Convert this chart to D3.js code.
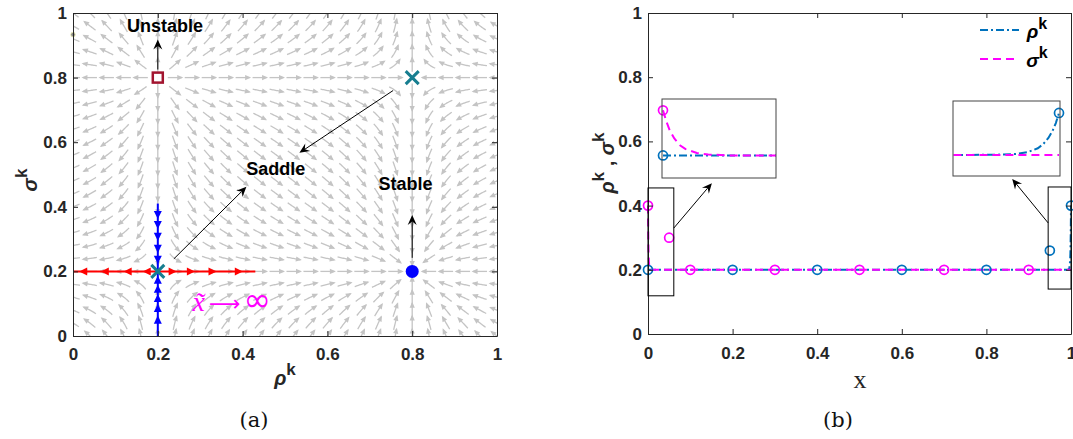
<!DOCTYPE html>
<html>
<head>
<meta charset="utf-8">
<script src="https://cdn.jsdelivr.net/npm/d3@7"></script>
<style>
body { margin: 0; background: #fff; }
svg { display: block; }
</style>
</head>
<body>
<svg id="fig" width="1073" height="439"></svg>
<script>
// ---------- data ----------
const tickValues = [0, 0.2, 0.4, 0.6, 0.8, 1];
const tickLabels = ["0", "0.2", "0.4", "0.6", "0.8", "1"];

// (a) fixed points of the map (rho roots and sigma roots)
const rhoRoots = [0.2, 0.8];
const sigmaRoots = [0.2, 0.8];
const fixedPoints = [
  { rho: 0.2, sigma: 0.8, kind: "unstable" },
  { rho: 0.8, sigma: 0.8, kind: "saddle" },
  { rho: 0.2, sigma: 0.2, kind: "saddle" },
  { rho: 0.8, sigma: 0.2, kind: "stable" }
];
// iterates along the unstable (red) and stable (blue) manifolds
const redLeft = [0.024, 0.075, 0.129, 0.174];
const redRight = [0.235, 0.278, 0.329, 0.391];
const redEnd = 0.43;
const blueDown = [0.375, 0.344, 0.307, 0.270, 0.236];
const blueUp = [0.05, 0.087, 0.118, 0.146, 0.174];
const blueEnd = 0.41;
const strayPoint = { rho: 0, sigma: 0.933 };

// (b) profiles
const rhoX = [0, 0.99, 0.994, 0.996, 0.997, 0.998, 0.9985, 0.999, 0.9994, 0.9997, 1];
const rhoY = [0.2, 0.2, 0.201, 0.205, 0.213, 0.232, 0.251, 0.281, 0.316, 0.352, 0.4];
const sigmaX = [0, 0.0003, 0.0006, 0.001, 0.0015, 0.002, 0.003, 0.004, 0.006, 0.01, 1];
const sigmaY = [0.4, 0.35, 0.31, 0.275, 0.245, 0.228, 0.211, 0.204, 0.2, 0.2, 0.2];
const rhoMarkX = [0, 0.2, 0.4, 0.6, 0.8, 0.95, 1];
const rhoMarkY = [0.2, 0.2, 0.2, 0.2, 0.2, 0.26, 0.4];
const sigmaMarkX = [0, 0.05, 0.1, 0.3, 0.5, 0.7, 0.9];
const sigmaMarkY = [0.4, 0.3, 0.2, 0.2, 0.2, 0.2, 0.2];

const BLUE = "#0072bd", MAG = "#ff00ff", TEAL = "#177e90", AXC = "#262626";
const SANS = "'Liberation Sans', Arial, sans-serif";
const svg = d3.select("#fig");

// ---------- helpers ----------
function box(g, x, y, padX, padY) {
  const fmt = (d, i) => tickLabels[i];
  const styleAx = a => {
    a.select(".domain").attr("stroke", AXC);
    a.selectAll(".tick line").attr("stroke", AXC);
    a.selectAll("text").attr("fill", AXC)
      .style("font-family", SANS).style("font-size", "17px").style("font-weight", "bold");
  };
  g.append("g").attr("transform", `translate(0,${y.range()[0]})`)
    .call(d3.axisBottom(x).tickValues(tickValues).tickFormat(fmt).tickSizeInner(-5).tickSizeOuter(0).tickPadding(padX))
    .call(styleAx);
  g.append("g").attr("transform", `translate(${x.range()[0]},0)`)
    .call(d3.axisLeft(y).tickValues(tickValues).tickFormat(fmt).tickSizeInner(-5).tickSizeOuter(0).tickPadding(padY))
    .call(styleAx);
  g.append("g").attr("transform", `translate(0,${y.range()[1]})`)
    .call(d3.axisTop(x).tickValues(tickValues).tickFormat("").tickSizeInner(-5).tickSizeOuter(0))
    .call(styleAx);
  g.append("g").attr("transform", `translate(${x.range()[1]},0)`)
    .call(d3.axisRight(y).tickValues(tickValues).tickFormat("").tickSizeInner(-5).tickSizeOuter(0))
    .call(styleAx);
}

function arrow(g, x1, y1, x2, y2, len = 10, wid = 4.5) {
  const a = Math.atan2(y2 - y1, x2 - x1);
  const ux = Math.cos(a), uy = Math.sin(a);
  const bx = x2 - ux * len, by = y2 - uy * len;
  const nx = x2 - ux * len * 0.65, ny = y2 - uy * len * 0.65;
  g.append("line").attr("x1", x1).attr("y1", y1).attr("x2", nx).attr("y2", ny)
    .attr("stroke", "#000").attr("stroke-width", 1);
  const p = [[x2, y2], [bx - uy * wid, by + ux * wid], [nx, ny], [bx + uy * wid, by - ux * wid]];
  g.append("path").attr("d", "M" + p.join("L") + "Z").attr("fill", "#000");
}

function supLabel(g, parts, size, supSize) {
  // parts: [[text, isSup, italic]]
  const t = g.append("text").attr("font-family", SANS)
    .attr("font-weight", "bold").attr("fill", AXC).attr("text-anchor", "middle");
  let up = false;
  parts.forEach(([s, sup, it]) => {
    const ts = t.append("tspan").text(s).attr("font-size", sup ? supSize : size);
    if (it) ts.attr("font-style", "italic");
    if (sup && !up) { ts.attr("dy", -size * 0.5); up = true; }
    else if (!sup && up) { ts.attr("dy", size * 0.5); up = false; }
  });
  return t;
}

// ---------- panel (a) ----------
const xA = d3.scaleLinear().domain([0, 1]).range([73, 497]);
const yA = d3.scaleLinear().domain([0, 1]).range([336, 13]);
const gA = svg.append("g");

svg.append("clipPath").attr("id", "clipA").append("rect")
  .attr("x", xA(0)).attr("y", yA(1)).attr("width", xA(1) - xA(0)).attr("height", yA(0) - yA(1));

const fRho = r => (r - rhoRoots[0]) * (rhoRoots[1] - r);
const fSig = s => -(s - sigmaRoots[0]) * (sigmaRoots[1] - s);
function dir(px, py) {
  const r = xA.invert(px), s = yA.invert(py);
  const vx = fRho(r) * (xA(1) - xA(0)), vy = -fSig(s) * (yA(0) - yA(1));
  const n = Math.hypot(vx, vy);
  return n < 1e-9 ? null : [vx / n, vy / n];
}

const field = gA.append("g").attr("clip-path", "url(#clipA)");
const grid = d3.range(0, 26).map(i => i * 0.04);
const FG = "#c4c4c4";
grid.forEach(r => grid.forEach(s => {
  const px = xA(r), py = yA(s);
  if (!dir(px, py)) return;
  const back = [], fwd = [];
  let p = [px, py];
  for (let k = 0; k < 7; k++) { const d = dir(p[0], p[1]); if (!d) break; p = [p[0] - d[0], p[1] - d[1]]; back.unshift(p); }
  p = [px, py];
  let last = dir(px, py);
  for (let k = 0; k < 7; k++) { const d = dir(p[0], p[1]); if (!d) break; last = d; p = [p[0] + d[0], p[1] + d[1]]; fwd.push(p); }
  const pts = back.concat([[px, py]], fwd);
  field.append("path").attr("d", d3.line()(pts)).attr("fill", "none")
    .attr("stroke", FG).attr("stroke-width", 1.3);
  const [ex, ey] = pts[pts.length - 1], [ux, uy] = last;
  const hl = 4.5, hw = 2.6;
  const bx = ex - ux * hl, by = ey - uy * hl;
  field.append("path")
    .attr("d", `M${ex + ux * 1.5},${ey + uy * 1.5}L${bx - uy * hw},${by + ux * hw}L${bx + uy * hw},${by - ux * hw}Z`)
    .attr("fill", FG);
}));

// red manifold (horizontal) and blue manifold (vertical)
const sad = fixedPoints[2];
gA.append("line").attr("x1", xA(0)).attr("x2", xA(redEnd)).attr("y1", yA(sad.sigma)).attr("y2", yA(sad.sigma))
  .attr("stroke", "#ff0000").attr("stroke-width", 2);
const tri = (cx, cy, ang, col) => {
  const L = 8, W = 4;
  const ux = Math.cos(ang), uy = Math.sin(ang);
  const tx = cx + ux * L / 2, ty = cy + uy * L / 2, bx = cx - ux * L / 2, by = cy - uy * L / 2;
  gA.append("path").attr("d", `M${tx},${ty}L${bx - uy * W},${by + ux * W}L${bx + uy * W},${by - ux * W}Z`).attr("fill", col);
};
redLeft.forEach(r => tri(xA(r), yA(sad.sigma), Math.PI, "#ff0000"));
redRight.forEach(r => tri(xA(r), yA(sad.sigma), 0, "#ff0000"));
gA.append("line").attr("x1", xA(sad.rho)).attr("x2", xA(sad.rho)).attr("y1", yA(0)).attr("y2", yA(blueEnd))
  .attr("stroke", "#0000ff").attr("stroke-width", 2);
blueDown.forEach(s => tri(xA(sad.rho), yA(s), Math.PI / 2, "#0000ff"));
blueUp.forEach(s => tri(xA(sad.rho), yA(s), -Math.PI / 2, "#0000ff"));

// fixed point markers
fixedPoints.forEach(p => {
  const cx = xA(p.rho), cy = yA(p.sigma);
  if (p.kind === "saddle") {
    const h = 6.5;
    gA.append("path").attr("d", `M${cx - h},${cy - h}L${cx + h},${cy + h}M${cx - h},${cy + h}L${cx + h},${cy - h}`)
      .attr("stroke", TEAL).attr("stroke-width", 3);
  } else if (p.kind === "unstable") {
    gA.append("rect").attr("x", cx - 5).attr("y", cy - 5).attr("width", 10).attr("height", 10)
      .attr("fill", "none").attr("stroke", "#a2142f").attr("stroke-width", 2.5);
  } else {
    gA.append("circle").attr("cx", cx).attr("cy", cy).attr("r", 6.5).attr("fill", "#0000ff");
  }
});
gA.append("circle").attr("cx", xA(strayPoint.rho)).attr("cy", yA(strayPoint.sigma)).attr("r", 2.3)
  .attr("fill", "#8c8c8c").attr("stroke", "#f0f0b0").attr("stroke-width", 0.8);

box(gA, xA, yA, 12, 6);

// annotations
const bold18 = t => t.attr("font-family", SANS).attr("font-weight", "bold")
  .attr("font-size", 18).attr("fill", "#000").attr("text-anchor", "middle");
gA.append("text").attr("x", xA(0.217)).attr("y", yA(0.94)).text("Unstable").call(bold18);
gA.append("text").attr("x", xA(0.478)).attr("y", yA(0.5)).text("Saddle").call(bold18);
gA.append("text").attr("x", xA(0.784)).attr("y", yA(0.453)).text("Stable").call(bold18);
arrow(gA, xA(0.2), yA(0.825), xA(0.2), yA(0.918));
arrow(gA, xA(0.755), yA(0.76), xA(0.534), yA(0.567));
arrow(gA, xA(0.238), yA(0.239), xA(0.409), yA(0.462));
arrow(gA, xA(0.8), yA(0.242), xA(0.8), yA(0.375));

const inf = gA.append("text").attr("x", xA(0.282)).attr("y", yA(0.078)).attr("fill", MAG)
  .attr("font-family", "'Liberation Serif', 'Times New Roman', serif").attr("font-size", 28);
inf.append("tspan").attr("font-style", "italic").text("x\u0303");
inf.append("tspan").attr("dx", 4).attr("font-family", "'DejaVu Sans', sans-serif").attr("font-size", 22).text("\u27f6");
inf.append("tspan").attr("dx", 3).attr("font-family", "'DejaVu Sans', sans-serif").attr("font-size", 33).text("\u221e");

supLabel(gA, [["\u03c1", false, true], ["k", true]], 20, 17).attr("x", 285).attr("y", 385);
supLabel(gA, [["\u03c3", false, true], ["k", true]], 20, 17).attr("transform", "translate(37,180) rotate(-90)");

// ---------- panel (b) ----------
const xB = d3.scaleLinear().domain([0, 1]).range([648, 1071]);
const yB = d3.scaleLinear().domain([0, 1]).range([334, 13]);
const gB = svg.append("g");
const rhoPts = rhoX.map((v, i) => [v, rhoY[i]]);
const sigPts = sigmaX.map((v, i) => [v, sigmaY[i]]);
const rhoMarks = rhoMarkX.map((v, i) => [v, rhoMarkY[i]]);
const sigMarks = sigmaMarkX.map((v, i) => [v, sigmaMarkY[i]]);

function profiles(g, x, y, clipId) {
  const ln = d3.line().x(d => x(d[0])).y(d => y(d[1]));
  const lg = g.append("g").attr("clip-path", clipId ? `url(#${clipId})` : null);
  lg.append("path").attr("d", ln(rhoPts)).attr("fill", "none").attr("stroke", BLUE)
    .attr("stroke-width", 2).attr("stroke-dasharray", "8,3,2,3");
  lg.append("path").attr("d", ln(sigPts)).attr("fill", "none").attr("stroke", MAG)
    .attr("stroke-width", 2).attr("stroke-dasharray", "8,5");
  const [d0, d1] = x.domain();
  const [e0, e1] = y.domain();
  const inside = d => d[0] >= d0 && d[0] <= d1 && d[1] >= e0 && d[1] <= e1;
  g.selectAll(null).data(rhoMarks.filter(inside)).join("circle")
    .attr("cx", d => x(d[0])).attr("cy", d => y(d[1])).attr("r", 4.5)
    .attr("fill", "none").attr("stroke", BLUE).attr("stroke-width", 1.7);
  g.selectAll(null).data(sigMarks.filter(inside)).join("circle")
    .attr("cx", d => x(d[0])).attr("cy", d => y(d[1])).attr("r", 4.5)
    .attr("fill", "none").attr("stroke", MAG).attr("stroke-width", 1.7);
}

profiles(gB, xB, yB, null);
box(gB, xB, yB, 13, 6);

// zoom rectangles on main axes
const zoomRects = [
  { x0: 0, x1: 0.061, y0: 0.119, y1: 0.455 },
  { x0: 0.946, x1: 1.0, y0: 0.14, y1: 0.458 }
];
zoomRects.forEach(r => gB.append("rect").attr("x", xB(r.x0)).attr("y", yB(r.y1))
  .attr("width", xB(r.x1) - xB(r.x0)).attr("height", yB(r.y0) - yB(r.y1))
  .attr("fill", "none").attr("stroke", "#000").attr("stroke-width", 1));

// insets
const insets = [
  { id: "inL", box: [662, 99, 114, 79], xd: [0, 0.01], xr: [663, 776], yd: [0.1, 0.45] },
  { id: "inR", box: [953, 101, 107, 75], xd: [0.99, 1], xr: [953, 1059], yd: [0.1, 0.457] }
];
insets.forEach(s => {
  const [bx, by, bw, bh] = s.box;
  const g = gB.append("g");
  g.append("rect").attr("x", bx).attr("y", by).attr("width", bw).attr("height", bh).attr("fill", "#fff");
  svg.append("clipPath").attr("id", s.id).append("rect").attr("x", bx).attr("y", by).attr("width", bw).attr("height", bh);
  const x = d3.scaleLinear().domain(s.xd).range(s.xr);
  const y = d3.scaleLinear().domain(s.yd).range([by + bh, by]);
  profiles(g, x, y, s.id);
  g.append("rect").attr("x", bx).attr("y", by).attr("width", bw).attr("height", bh)
    .attr("fill", "none").attr("stroke", "#444").attr("stroke-width", 1);
});

arrow(gB, xB(0.061), yB(0.33), xB(0.151), yB(0.47));
arrow(gB, xB(0.946), yB(0.346), xB(0.861), yB(0.483));

// legend
const legend = [
  { name: "\u03c1", color: BLUE, dash: "8,3,2,3" },
  { name: "\u03c3", color: MAG, dash: "8,5" }
];
legend.forEach((d, i) => {
  const yy = 30 + i * 29;
  gB.append("line").attr("x1", 980).attr("x2", 1019).attr("y1", yy).attr("y2", yy)
    .attr("stroke", d.color).attr("stroke-width", 2).attr("stroke-dasharray", d.dash);
  supLabel(gB, [[d.name, false, true], ["k", true]], 19, 16)
    .attr("x", 1037).attr("y", yy + 8).attr("fill", "#000");
});

supLabel(gB, [["\u03c1", false, true], ["k", true], [" ,  ", false], ["\u03c3", false, true], ["k", true]], 20, 17)
  .attr("transform", "translate(614,163) rotate(-90)");
gB.append("text").attr("x", 860).attr("y", 388).attr("text-anchor", "middle")
  .attr("font-family", "'Liberation Serif', 'Times New Roman', serif").attr("font-size", 26).attr("fill", AXC).text("x");

// captions
[["(a)", 254], ["(b)", 838]].forEach(([t, cx]) => {
  svg.append("text").attr("x", cx).attr("y", 427).attr("text-anchor", "middle")
    .attr("font-family", "'DejaVu Serif', serif").attr("font-size", 21).attr("fill", "#111").text(t);
});
</script>
</body>
</html>
